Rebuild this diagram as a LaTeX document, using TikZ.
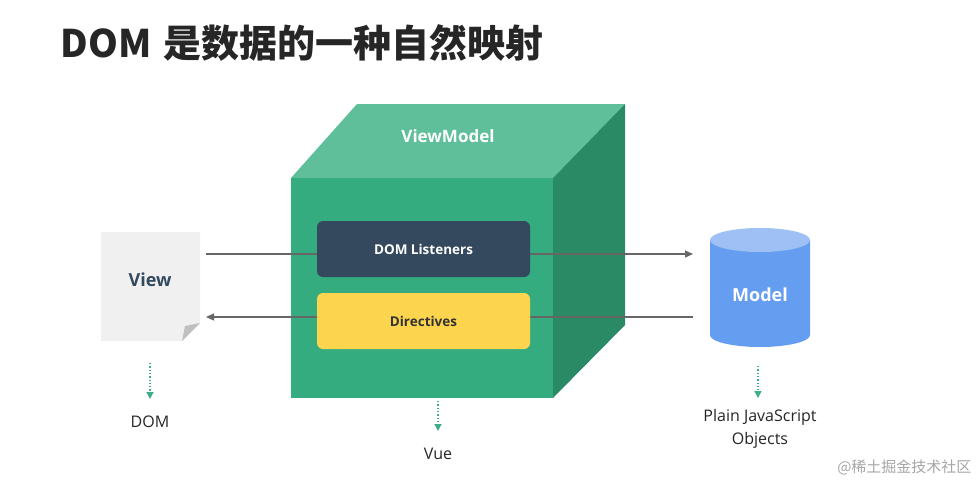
\documentclass[tikz,border=0pt]{standalone}
\usepackage{fontspec}
\setmainfont{Open Sans}
\newfontfamily\cjk{Noto Sans CJK SC}
\usetikzlibrary{arrows.meta}
\definecolor{ctop}{HTML}{5FBF9A}
\definecolor{cfront}{HTML}{35AB80}
\definecolor{cside}{HTML}{2B8A66}
\definecolor{cdark}{HTML}{34495E}
\definecolor{cyel}{HTML}{FDD44E}
\definecolor{cblue}{HTML}{659DF0}
\definecolor{cbluetop}{HTML}{9EC0F5}
\definecolor{cgreen}{HTML}{3DAE85}
\tikzset{
 conn/.style={draw=black!60, line width=1.2pt, -{Triangle[length=8pt,width=7pt]}},
 dots/.style={draw=cgreen, line width=1.3pt, dotted, -{Triangle[length=7pt,width=7pt]}},
 lbl/.style={font=\fontsize{16}{18}\selectfont, text=black!85, align=center},
 box/.style={rounded corners=6pt, minimum width=213pt, minimum height=56pt, font=\bfseries\fontsize{13.5}{15}\selectfont}
}
\begin{document}
\begin{tikzpicture}[x=1pt,y=-1pt]
\useasboundingbox[fill=white] (0,0) rectangle (980,485);
\node[anchor=west, font=\cjk\bfseries\fontsize{38}{42}\selectfont, text=black!85] (title) at (57,43) {DOM\hspace{0.1em} 是数据的一种自然映射};
% cube
\fill[ctop] (291,178) -- (357,104) -- (625,104) -- (553,178) -- cycle;
\fill[cside] (553,178) -- (625,104) -- (625,325) -- (553,398) -- cycle;
\fill[cfront] (291,178) rectangle (553,398);
\node[font=\bfseries\fontsize{17}{19}\selectfont, text=white] (vm) at (448,136) {ViewModel};
% arrows
\coordinate (a1) at (206,254); \coordinate (b1) at (693,254);
\coordinate (a2) at (693,317); \coordinate (b2) at (206,317);
\draw[conn] (a1) -- (b1);
\draw[conn] (a2) -- (b2);
\node[box, fill=cdark, text=white] (dl) at (423.5,249) {DOM Listeners};
\node[box, fill=cyel, text=black!80] (dir) at (423.5,321) {Directives};
% view
\fill[black!6] (101,232) -- (200,232) -- (200,323) -- (182,341) -- (101,341) -- cycle;
\fill[black!25] (200,323) -- (182,341) -- (185,326) -- cycle;
\node[font=\bfseries\fontsize{18}{20}\selectfont, text=cdark] (view) at (150,280) {View};
% model
\fill[cblue] (710,240) -- (710,335) arc[start angle=180,end angle=0,x radius=50,y radius=12] -- (810,240) -- cycle;
\fill[cbluetop] (760,240) ellipse[x radius=50,y radius=12];
\node[font=\bfseries\fontsize{18}{20}\selectfont, text=white] (model) at (760,295) {Model};
% dotted
\coordinate (v1) at (150,363); \coordinate (v2) at (150,399);
\coordinate (u1) at (438,401); \coordinate (u2) at (438,431);
\coordinate (m1) at (758,366); \coordinate (m2) at (758,398);
\draw[dots] (v1) -- (v2);
\draw[dots] (u1) -- (u2);
\draw[dots] (m1) -- (m2);
\node[lbl] (dom) at (150,422) {DOM};
\node[lbl] (vue) at (438,454) {Vue};
\node[lbl, font=\fontsize{16}{23}\selectfont] (pjo) at (760,429) {Plain JavaScript\\Objects};
\node[anchor=east, font=\cjk\fontsize{15}{17}\selectfont, text=black!35] (wm) at (975,467) {@稀土掘金技术社区};
\end{tikzpicture}
\end{document}
